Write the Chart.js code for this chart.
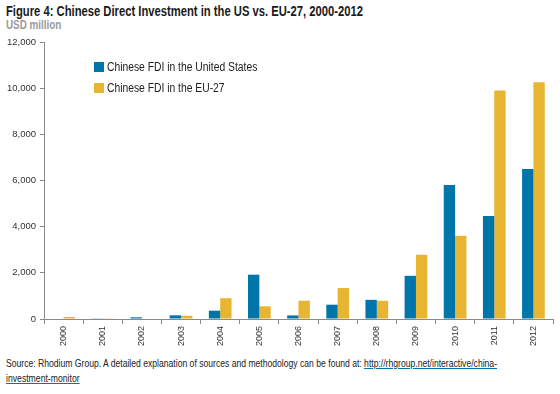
<!DOCTYPE html>
<html>
<head>
<meta charset="utf-8">
<script src="https://cdn.jsdelivr.net/npm/chart.js@4"></script>
<style>
  body { margin: 0; width: 560px; height: 394px; background: #fff; font-family: "Liberation Sans", Arial, sans-serif; position: relative; overflow: hidden; }
  .fit { position: absolute; left: 6px; white-space: nowrap; transform-origin: 0 0; }
  #title { top: 4px; font-size: 14px; line-height: 14px; font-weight: bold; color: #1a1a1a; }
  #unit { top: 19px; font-size: 12px; line-height: 12px; font-weight: bold; color: #9a9a9a; }
  #wrap { position: absolute; left: 0; top: 0; width: 560px; height: 352px; }
  #src1 { top: 357px; font-size: 11px; line-height: 13px; color: #222; }
  #src2 { top: 372px; font-size: 11px; line-height: 13px; color: #222; }
  a { color: #222; text-decoration: underline; text-decoration-color: #0075aa; }
</style>
</head>
<body>
<div id="title" class="fit" data-w="357">Figure 4: Chinese Direct Investment in the US vs. EU-27, 2000-2012</div>
<div id="unit" class="fit" data-w="55">USD million</div>
<div id="wrap"><canvas id="chart"></canvas></div>
<div id="src1" class="fit" data-w="491">Source: Rhodium Group. A detailed explanation of sources and methodology can be found at: <a href="#">http://rhgroup.net/interactive/china-</a></div>
<div id="src2" class="fit" data-w="74"><a href="#">investment-monitor</a></div>
<script>
const years = ['2000', '2001', '2002', '2003', '2004', '2005', '2006', '2007', '2008', '2009', '2010', '2011', '2012'];
const usFdi = [0, 30, 75, 160, 360, 1920, 155, 620, 830, 1870, 5800, 4460, 6495];
const euFdi = [90, 30, 0, 140, 900, 550, 790, 1340, 790, 2785, 3605, 9895, 10260];
const yTicks = [0, 2000, 4000, 6000, 8000, 10000, 12000];

const blue = '#0075aa';
const gold = '#e7b532';
const fontFamily = '"Liberation Sans", Arial, sans-serif';

// squeeze the html text to the narrow widths of the original
document.querySelectorAll('.fit').forEach(el => {
  el.style.transform = 'scaleX(' + (el.dataset.w / el.offsetWidth) + ')';
});

// legend drawn inside the plot, upper left
const innerLegend = {
  id: 'innerLegend',
  afterDraw(chart) {
    const ctx = chart.ctx;
    ctx.save();
    ctx.font = '12px ' + fontFamily;
    ctx.textBaseline = 'middle';
    chart.data.datasets.forEach((ds, i) => {
      const y = 67 + i * 21;
      ctx.fillStyle = ds.backgroundColor;
      ctx.fillRect(94, y - 5, 10, 10);
      ctx.fillStyle = '#222';
      ctx.save();
      ctx.translate(107, y + 1);
      ctx.scale(0.86, 1);
      ctx.fillText(ds.label, 0, 0);
      ctx.restore();
    });
    ctx.restore();
  }
};

new Chart(document.getElementById('chart'), {
  type: 'bar',
  data: {
    labels: years,
    datasets: [
      { label: 'Chinese FDI in the United States', data: usFdi, backgroundColor: blue },
      { label: 'Chinese FDI in the EU-27', data: euFdi, backgroundColor: gold }
    ]
  },
  options: {
    responsive: true,
    maintainAspectRatio: false,
    animation: false,
    layout: { padding: { top: 42, right: 7, left: 0, bottom: 0 } },
    datasets: { bar: { categoryPercentage: 0.58, barPercentage: 1 } },
    plugins: { legend: { display: false }, tooltip: { enabled: false } },
    scales: {
      x: {
        afterFit(scale) { scale.height = 33; },
        grid: { display: true, drawOnChartArea: false, offset: true, tickLength: 5, color: '#8a8a8a' },
        border: { color: '#8a8a8a', width: 1 },
        ticks: {
          minRotation: 90, maxRotation: 90, padding: 2,
          color: '#333',
          font: { family: fontFamily, size: 9 }
        }
      },
      y: {
        min: 0, max: 12000,
        afterBuildTicks(scale) { scale.ticks = yTicks.map(v => ({ value: v })); },
        afterFit(scale) { scale.width = 44; },
        grid: { drawOnChartArea: false, tickLength: 4, color: '#8a8a8a' },
        border: { color: '#8a8a8a', width: 1 },
        ticks: {
          padding: 4,
          color: '#333',
          font: { family: fontFamily, size: 9.5 },
          callback: v => v.toLocaleString('en-US')
        }
      }
    }
  },
  plugins: [innerLegend]
});
</script>
</body>
</html>
